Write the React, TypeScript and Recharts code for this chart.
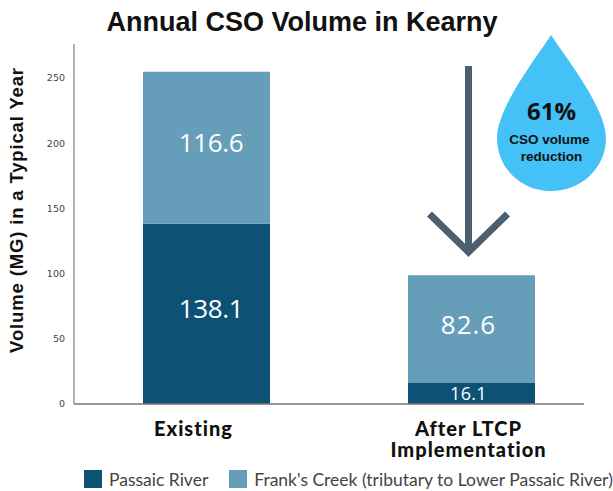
import React from "react";
import { BarChart, Bar, XAxis, YAxis, LabelList, Legend } from "recharts";

const categories = ["Existing", "After LTCP Implementation"];
const passaic = [138.1, 16.1];
const franks = [116.6, 82.6];
const yTicks = [0, 50, 100, 150, 200, 250];
const rows = categories.map((c, i) => ({ name: c, passaic: passaic[i], franks: franks[i] }));

const CatTick = (props: any) => {
  const { x, y, payload } = props;
  const first = payload.value === "Existing";
  const lines = first ? ["Existing"] : ["After LTCP", "Implementation"];
  return (
    <g>
      {lines.map((l: string, i: number) => (
        <text key={l} x={x + (first ? -13 : -3)} y={y + 24 + i * 20.5} textAnchor="middle" fontFamily="Lato" fontWeight={900} fontSize={20} letterSpacing={1} fill="#111">
          {l}
        </text>
      ))}
    </g>
  );
};

const BarValue = (p: any) => {
  const small = p.value < 20;
  const dx = p.index === 0 ? 4.5 : -3;
  return (
    <text
      x={p.x + p.width / 2 + dx}
      y={p.y + p.height / 2 + (small ? 6.5 : 4.5)}
      textAnchor="middle"
      fill="#fff"
      fontFamily="Open Sans"
      fontSize={small ? 18 : 26}
      letterSpacing={p.index === 0 ? -0.4 : small ? 0.3 : 1}
    >
      {p.value}
    </text>
  );
};

export default function App() {
  return (
    <div style={{ position: "absolute", left: 0, top: 0, width: 613, height: 491, background: "#fff" }}>
      <BarChart width={613} height={491} data={rows} margin={{ top: 44, right: 29, bottom: 0, left: 0 }} barCategoryGap={0} barSize={127}>
        <XAxis dataKey="name" axisLine={{ stroke: "#777", strokeWidth: 1.5 }} tickLine={false} tick={<CatTick />} interval={0} padding={{ left: 0, right: -20 }} height={87} />
        <YAxis width={74} domain={[0, 276]} ticks={yTicks} allowDataOverflow axisLine={{ stroke: "#666", strokeWidth: 1 }} tickLine={false} tick={{ fontFamily: "DejaVu Sans", fontSize: 9.5, fill: "#444" }} tickMargin={3} />
        <Bar dataKey="passaic" stackId="a" fill="#0D5175" isAnimationActive={false} name="Passaic River">
          <LabelList dataKey="passaic" content={<BarValue />} />
        </Bar>
        <Bar dataKey="franks" stackId="a" fill="#669DB9" isAnimationActive={false} name="Frank's Creek (tributary to Lower Passaic River)">
          <LabelList dataKey="franks" content={<BarValue />} />
        </Bar>
        <Legend
          wrapperStyle={{ left: 0, top: 0, bottom: "auto", width: 613, height: 0 }}
          content={() => (
            <div style={{ position: "absolute", left: 84, top: 470, display: "flex", fontFamily: "Lato", fontSize: 17.5, color: "#444", whiteSpace: "nowrap", lineHeight: "20px" }}>
              <span style={{ width: 18, height: 18, background: "#0D5175", marginRight: 7 }} />
              <span style={{ marginRight: 21 }}>Passaic River</span>
              <span style={{ width: 18, height: 18, background: "#669DB9", marginRight: 7 }} />
              <span>Frank's Creek (tributary to Lower Passaic River)</span>
            </div>
          )}
        />
      </BarChart>
      <svg width={613} height={491} style={{ position: "absolute", left: 0, top: 0, pointerEvents: "none" }}>
        <text x={302} y={31} textAnchor="middle" fontFamily="Liberation Sans" fontWeight={700} fontSize={27} fill="#111">Annual CSO Volume in Kearny</text>
        <text transform="translate(23,210) rotate(-90)" textAnchor="middle" fontFamily="Liberation Sans" fontWeight={700} fontSize={18.5} letterSpacing={0.85} fill="#111">Volume (MG) in a Typical Year</text>
        <path d="M468.5 66 V252 M429.5 214 L468.5 252 L507.5 214" fill="none" stroke="#4C5F70" strokeWidth={7} />
        <path d="M551 35 C566 58 606 108 606 138 C606 168 581 191 551 191 C521 191 497 168 497 138 C497 108 536 58 551 35 Z" fill="#44C1F6" />
        <text x={551.5} y={120} textAnchor="middle" fontFamily="Open Sans" fontWeight={700} fontSize={24} fill="#111">61%</text>
        <text x={549.5} y={144} textAnchor="middle" fontFamily="Liberation Sans" fontWeight={700} fontSize={13.5} fill="#111">CSO volume</text>
        <text x={551.5} y={161} textAnchor="middle" fontFamily="Liberation Sans" fontWeight={700} fontSize={13.5} fill="#111">reduction</text>
      </svg>
    </div>
  );
}
